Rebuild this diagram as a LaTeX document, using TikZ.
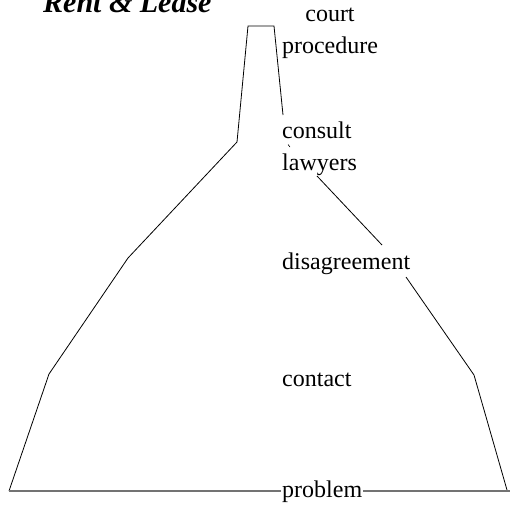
\documentclass[tikz,border=0pt]{standalone}
\usepackage{fontspec}
\setmainfont{Liberation Serif}
\begin{document}
\begin{tikzpicture}[x=1pt,y=-1pt,
  outline/.style={draw=black,line width=0.8pt,line join=miter},
  baseline line/.style={draw=black!55,line width=1.3pt},
  lbl/.style={inner sep=0pt,font=\fontsize{24}{31.5}\selectfont,anchor=base west,align=left},
  titlestyle/.style={inner sep=0pt,font=\fontsize{30}{34}\selectfont\bfseries\itshape,anchor=base west}]
\useasboundingbox (0,0) rectangle (510,508);
% labels
\node[titlestyle] (title) at (43,13) {Rent \& Lease};
\node[lbl,anchor=base,align=center] (court) at (330,53.5) {court\\procedure};
\node[lbl] (consult) at (282,170) {consult\\lawyers};
\node[lbl] (disagree) at (282,269) {disagreement};
\node[lbl] (contact) at (282,386) {contact};
\node[lbl,inner xsep=1pt] (problem) at (281,497) {problem};
% vertices
\coordinate (bl) at (9,491);
\coordinate (l1) at (49,374);
\coordinate (l2) at (128,258);
\coordinate (l3) at (237,142);
\coordinate (tl) at (248,26);
\coordinate (tr) at (274,26);
\coordinate (r1) at (283,115);
\coordinate (r2) at (317,176);
\coordinate (r3) at (382,245);
\coordinate (r4) at (406,277);
\coordinate (r5) at (474,375);
\coordinate (br) at (507,490);
\coordinate (be) at (510,491);
% outline
\draw[outline] (bl) -- (l1) -- (l2) -- (l3) -- (tl) -- (tr) -- (r1);
\draw[outline] (r2) -- (r3);
\draw[outline] (r4) -- (r5) -- (br);
\coordinate (tk1) at (288,144.5);
\coordinate (tk2) at (290,147);
\draw[black,line width=0.6pt] (tk1) -- (tk2);
% base line
\draw[baseline line] (bl) -- (bl -| problem.west);
\draw[baseline line] (be -| problem.east) -- (be);
\end{tikzpicture}
\end{document}
